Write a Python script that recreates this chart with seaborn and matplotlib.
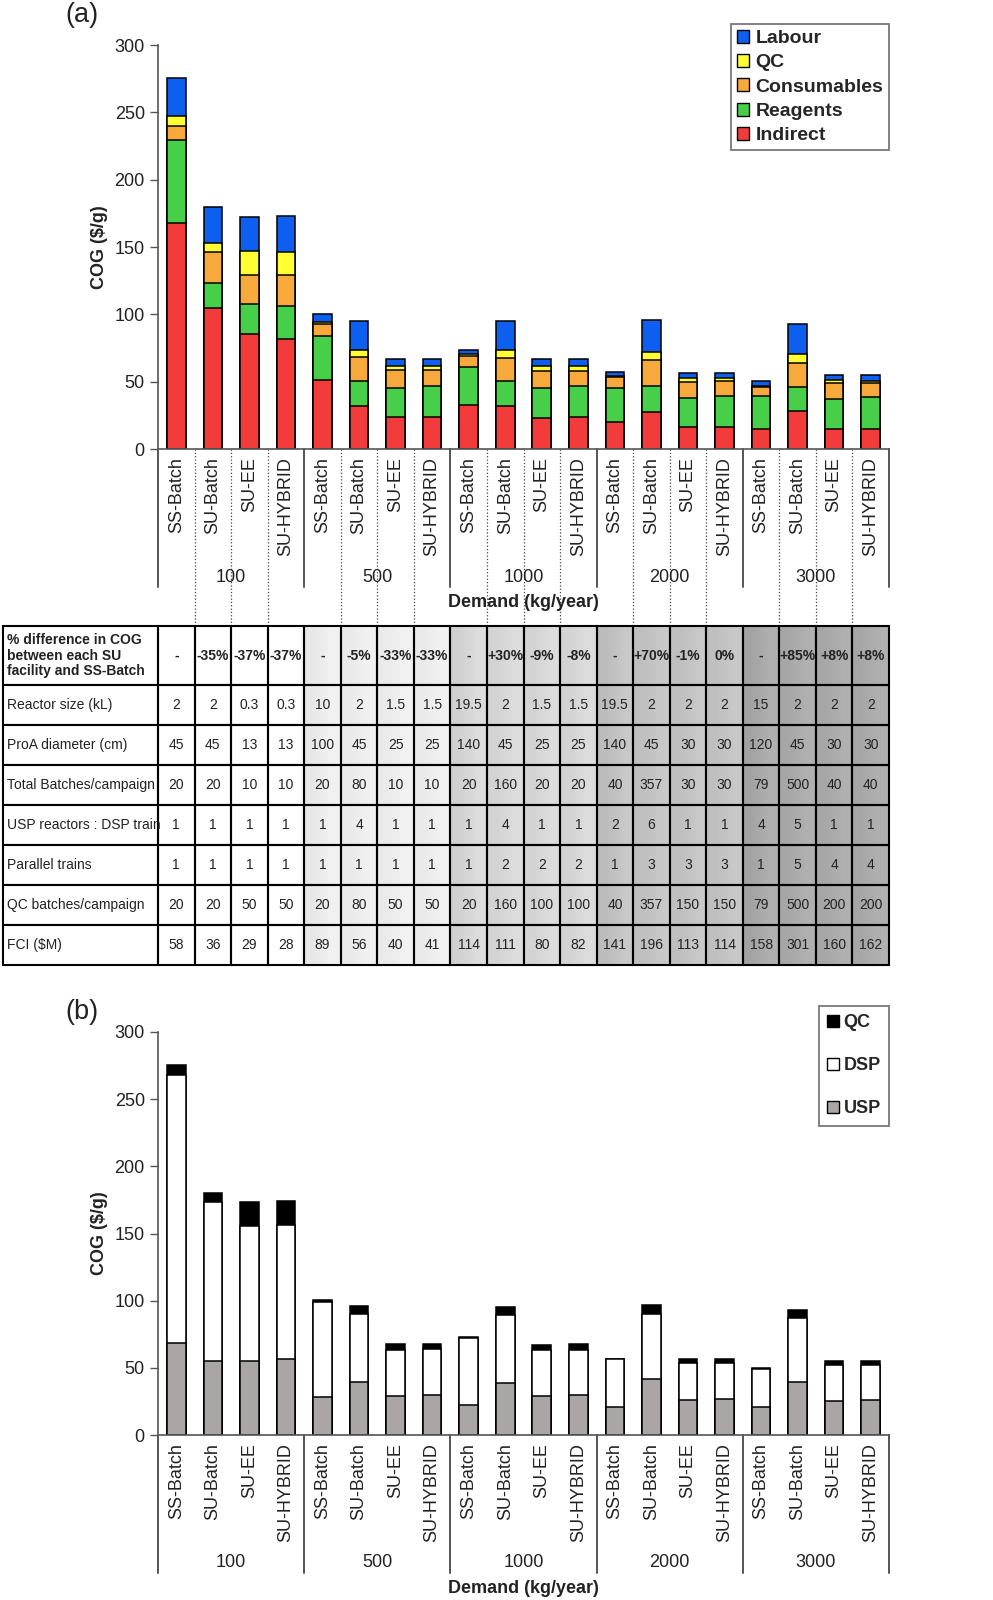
import numpy as np
import pandas as pd
import seaborn as sns
import matplotlib.pyplot as plt
from matplotlib.patches import Rectangle, Patch

configs = ["SS-Batch", "SU-Batch", "SU-EE", "SU-HYBRID"] * 5
demands = ["100", "500", "1000", "2000", "3000"]

# (a) COG breakdown by cost category ($/g)
indirect = [168, 104.6, 85.3, 82, 51.2, 32, 23.5, 24, 32.6, 31.7, 23, 23.5, 19.8, 27.7, 16, 16, 14.8, 28.4, 14.8, 15.1]
reagents = [61.5, 19, 22.3, 24, 32.6, 18.5, 22, 23, 28.2, 18.5, 22.3, 23, 25.5, 18.8, 22.2, 23.5, 24.3, 18, 22.5, 23.5]
consumables = [10.5, 22.7, 21.5, 23, 9, 17.6, 13.4, 11.7, 8.5, 17.3, 12.3, 11.6, 7.9, 19.3, 11.9, 11, 6.7, 17.8, 11.7, 10.4]
qc = [7, 7, 17.6, 17, 1.5, 5.4, 3, 3, 1.5, 5.7, 3.7, 3.2, 1, 5.9, 2.5, 2, 0.8, 6.2, 2, 1.7]
labour = [28.5, 26.2, 25.9, 27, 6, 21.5, 5, 5.5, 2.5, 21.5, 5.5, 5.7, 2.7, 24.3, 3.7, 3.9, 4, 22.3, 3.7, 4]

# (b) COG breakdown by process stage ($/g)
usp = [68.7, 55, 55.3, 56.3, 28.5, 39.2, 29, 29.5, 22, 38.9, 29, 29.5, 21, 41.4, 26, 26.5, 21, 39.2, 25.5, 26]
dsp = [199.6, 118.3, 100.2, 99.7, 70.7, 50.8, 34.5, 34.2, 50.2, 50.4, 34.2, 34, 35.3, 48.6, 27.3, 27.1, 28.3, 47.6, 26.3, 25.8]
qc_b = [7.4, 7.2, 18.1, 18, 1.5, 6, 4, 4, 1, 6.2, 3.7, 3.9, 0.5, 6.7, 3.2, 3.2, 0.8, 6.2, 3, 3]

# table
row_labels = ["% difference in COG\nbetween each SU\nfacility and SS-Batch", "Reactor size (kL)",
              "ProA diameter (cm)", "Total Batches/campaign", "USP reactors : DSP train",
              "Parallel trains", "QC batches/campaign", "FCI ($M)"]
pct_diff = ["-", "-35%", "-37%", "-37%", "-", "-5%", "-33%", "-33%", "-", "+30%", "-9%", "-8%",
            "-", "+70%", "-1%", "0%", "-", "+85%", "+8%", "+8%"]
reactor = ["2", "2", "0.3", "0.3", "10", "2", "1.5", "1.5", "19.5", "2", "1.5", "1.5",
           "19.5", "2", "2", "2", "15", "2", "2", "2"]
proa = [45, 45, 13, 13, 100, 45, 25, 25, 140, 45, 25, 25, 140, 45, 30, 30, 120, 45, 30, 30]
batches = [20, 20, 10, 10, 20, 80, 10, 10, 20, 160, 20, 20, 40, 357, 30, 30, 79, 500, 40, 40]
usp_dsp = [1, 1, 1, 1, 1, 4, 1, 1, 1, 4, 1, 1, 2, 6, 1, 1, 4, 5, 1, 1]
parallel = [1, 1, 1, 1, 1, 1, 1, 1, 1, 2, 2, 2, 1, 3, 3, 3, 1, 5, 4, 4]
qc_batches = [20, 20, 50, 50, 20, 80, 50, 50, 20, 160, 100, 100, 40, 357, 150, 150, 79, 500, 200, 200]
fci = [58, 36, 29, 28, 89, 56, 40, 41, 114, 111, 80, 82, 141, 196, 113, 114, 158, 301, 160, 162]

colors_a = {"Indirect": "#f23c3c", "Reagents": "#47cf4a", "Consumables": "#f7a93b",
            "QC": "#ffff33", "Labour": "#0d5ff0"}
colors_b = {"USP": "#aaa6a6", "DSP": "#ffffff", "QC": "#000000"}
# grey level of each demand group in the table, and its left-to-right shading
group_grey = [1.0, 0.93, 0.845, 0.765, 0.67]
group_grad = [0.0, 0.015, 0.018, 0.018, 0.018]

sns.set_style("ticks")
plt.rcParams["font.family"] = ["Liberation Sans", "DejaVu Sans"]

W, H = 993, 1600
fig = plt.figure(figsize=(W / 100, H / 100), dpi=100)
L, R = 158 / W, 889 / W


def stacked(ax, parts, colors):
    df = pd.DataFrame(parts)
    df["pos"] = range(len(configs))
    cum = df[list(parts)].cumsum(axis=1)
    for name in reversed(list(parts)):
        sns.barplot(x=df["pos"], y=cum[name], color=colors[name], saturation=1, width=0.51,
                    edgecolor="black", linewidth=1.1, errorbar=None, ax=ax)


def style_axes(ax, sep_depth):
    ax.set_xlim(-0.5, len(configs) - 0.5)
    ax.set_ylim(0, 300)
    ax.set_yticks(range(0, 301, 50))
    ax.set_xticks(range(len(configs)))
    ax.set_xticklabels(configs, rotation=90, fontsize=13, color="#222")
    ax.tick_params(axis="x", length=0, pad=6)
    ax.tick_params(axis="y", labelsize=13, labelcolor="#222", length=6, width=1, color="#555")
    ax.set_xlabel("")
    ax.set_ylabel("COG ($/g)", fontsize=13, fontweight="bold", color="#222")
    ax.yaxis.set_label_coords(-0.068, 0.5)
    sns.despine(ax=ax)
    for s in ["left", "bottom"]:
        ax.spines[s].set_color("#555")
        ax.spines[s].set_linewidth(1.2)
    tr = ax.get_xaxis_transform()
    for b in np.arange(-0.5, len(configs), 4):
        ax.plot([b, b], [0, sep_depth], transform=tr, color="#555", lw=1.4, clip_on=False)
    for i, d in enumerate(demands):
        ax.text(4 * i + 1.5, -0.317, d, transform=tr, ha="center", va="center", fontsize=13, color="#222")
    ax.text(9.5, -0.38, "Demand (kg/year)", transform=tr, ha="center", va="center",
            fontsize=13, fontweight="bold", color="#222")


# ---- panel (a)
ax_a = fig.add_axes([L, 1 - 449 / H, R - L, 404 / H])
stacked(ax_a, {"Indirect": indirect, "Reagents": reagents, "Consumables": consumables,
               "QC": qc, "Labour": labour}, colors_a)
style_axes(ax_a, -0.342)
tr = ax_a.get_xaxis_transform()
for b in np.arange(-0.5, len(configs), 1):
    if (b + 0.5) % 4 != 0:
        ax_a.plot([b, b], [0, -0.436], transform=tr, color="#444", lw=0.9, ls=":", clip_on=False)

order_a = ["Labour", "QC", "Consumables", "Reagents", "Indirect"]
leg = ax_a.legend(handles=[Patch(facecolor=colors_a[k], edgecolor="black", label=k) for k in order_a],
                  loc="upper right", bbox_to_anchor=(889 / W, 1 - 24 / H), bbox_transform=fig.transFigure,
                  prop={"weight": "bold", "size": 14}, fancybox=False, edgecolor="#555",
                  handlelength=0.65, handleheight=0.65, handletextpad=0.3, labelspacing=0.36,
                  borderpad=0.3, borderaxespad=0)
leg.get_frame().set_linewidth(1.3)
fig.text(65 / W, 1 - 15 / H, "(a)", fontsize=19.5, va="center", ha="left", color="#222")

# ---- table
row_h = [59] + [40] * 7
edges = np.concatenate([[0], np.cumsum(row_h)])
tab = fig.add_axes([L, 1 - 965 / H, R - L, edges[-1] / H])
x_lab = -0.5 - 155 / 36.55
rows = [pct_diff, reactor, proa, batches, usp_dsp, parallel, qc_batches, fci]
for r, (lab, vals) in enumerate(zip(row_labels, rows)):
    y0, y1 = edges[r], edges[r + 1]
    tab.add_patch(Rectangle((x_lab, y0), -0.5 - x_lab, y1 - y0, facecolor="white",
                            edgecolor="black", lw=1.5, clip_on=False, zorder=2))
    tab.text(x_lab + 0.1, (y0 + y1) / 2, lab, ha="left", va="center", fontsize=10,
             fontweight="bold" if r == 0 else "normal", color="#222", linespacing=1.1,
             clip_on=False, zorder=3)
    for c, v in enumerate(vals):
        g = c // 4
        lo = group_grey[g] - group_grad[g] * (1.6 if c % 4 == 0 else 1.0)
        hi = min(group_grey[g] + group_grad[g], 1.0)
        tab.imshow([[lo, hi]], cmap="gray", vmin=0, vmax=1, extent=(c - 0.5, c + 0.5, y1, y0),
                   aspect="auto", interpolation="bilinear", zorder=1)
        tab.add_patch(Rectangle((c - 0.5, y0), 1, y1 - y0, facecolor="none",
                                edgecolor="black", lw=1.5, clip_on=False, zorder=2))
        tab.text(c, (y0 + y1) / 2, str(v), ha="center", va="center", fontsize=10,
                 fontweight="bold" if r == 0 else "normal", color="#222", zorder=3)
tab.set_xlim(-0.5, len(configs) - 0.5)
tab.set_ylim(edges[-1], 0)
tab.axis("off")

# ---- panel (b)
ax_b = fig.add_axes([L, 1 - 1435 / H, R - L, 403 / H])
stacked(ax_b, {"USP": usp, "DSP": dsp, "QC": qc_b}, colors_b)
style_axes(ax_b, -0.342)
order_b = ["QC", "DSP", "USP"]
leg_b = ax_b.legend(handles=[Patch(facecolor=colors_b[k], edgecolor="black", label=k) for k in order_b],
                    loc="upper right", bbox_to_anchor=(889 / W, 1 - 1006 / H), bbox_transform=fig.transFigure,
                    prop={"weight": "bold", "size": 13}, fancybox=False, edgecolor="#555",
                    handlelength=0.65, handleheight=0.65, handletextpad=0.25, labelspacing=1.45,
                    borderpad=0.45, borderaxespad=0)
leg_b.get_frame().set_linewidth(1.3)
fig.text(65 / W, 1 - 1012 / H, "(b)", fontsize=19.5, va="center", ha="left", color="#222")

fig.savefig("out.png", dpi=100)
